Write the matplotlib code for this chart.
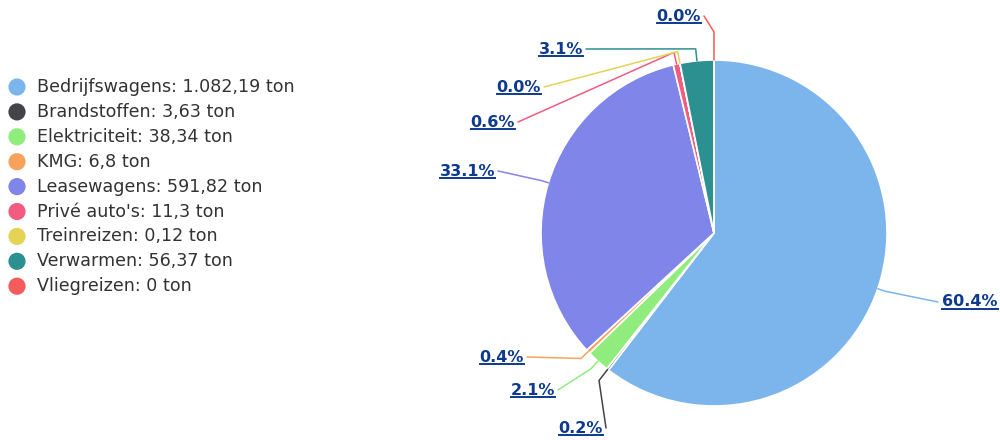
import matplotlib
matplotlib.use("Agg")
import matplotlib.pyplot as plt
from matplotlib.patches import Circle
import numpy as np

categories = ["Bedrijfswagens", "Brandstoffen", "Elektriciteit", "KMG", "Leasewagens",
              "Privé auto's", "Treinreizen", "Verwarmen", "Vliegreizen"]
values = [1082.19, 3.63, 38.34, 6.8, 591.82, 11.3, 0.12, 56.37, 0]
value_labels = ["1.082,19", "3,63", "38,34", "6,8", "591,82", "11,3", "0,12", "56,37", "0"]
colors = ["#7cb5ec", "#434348", "#90ed7d", "#f7a35c", "#8085e9",
          "#f15c80", "#e4d354", "#2b908f", "#f45b5b"]

# label anchor (end of connector) in pixel coords, origin top-left
label_pos = [(938, 302), (606, 428), (558, 390), (527, 357), (498, 171),
             (518, 122), (544, 87), (586, 49), (704, 16)]
label_ha = ["left", "right", "right", "right", "right", "right", "right", "right", "right"]
elbow_out = [8, 14, 10, 10, 8, 12, 12, 12, 28]

W, H = 1000, 440
cx, cy, R = 714, 233, 173
label_color = "#0d3a8e"

fig = plt.figure(figsize=(W / 100, H / 100), dpi=100)
ax = fig.add_axes([0, 0, 1, 1])
ax.set_xlim(0, W)
ax.set_ylim(0, H)
ax.set_aspect("equal")
ax.axis("off")

def Y(y):
    return H - y

ax.pie(values, colors=colors, center=(cx, Y(cy)), radius=R, startangle=90,
       counterclock=False, wedgeprops=dict(edgecolor="white", linewidth=1.2))
ax.set_xlim(0, W)
ax.set_ylim(0, H)

total = sum(values)
fracs = np.array(values) / total
cum = np.cumsum(fracs) - fracs
texts = []
for i, f in enumerate(fracs):
    theta = np.deg2rad(90 - 360 * (cum[i] + f / 2))
    ex, ey = cx + R * np.cos(theta), Y(cy) + R * np.sin(theta)
    r2 = R + elbow_out[i]
    bx, by = cx + r2 * np.cos(theta), Y(cy) + r2 * np.sin(theta)
    lx, ly = label_pos[i][0], Y(label_pos[i][1])
    ax.plot([ex, bx, lx], [ey, by, ly], color=colors[i], lw=1.1,
            solid_joinstyle="round", solid_capstyle="round")
    tx = lx + 4 if label_ha[i] == "left" else lx - 3
    t = ax.text(tx, ly, "%.1f%%" % (f * 100), ha=label_ha[i], va="center",
                fontsize=11.5, fontweight="bold", color=label_color)
    texts.append(t)

# legend
for i, (c, name, v) in enumerate(zip(colors, categories, value_labels)):
    yy = 87 + i * 24.9
    ax.add_patch(Circle((17, Y(yy)), 8.6, color=c, lw=0))
    ax.text(37, Y(yy), "%s: %s ton" % (name, v), ha="left", va="center",
            fontsize=12.6, color="#333333")

# underline the data labels
fig.canvas.draw()
inv = ax.transData.inverted()
for t in texts:
    bb = t.get_window_extent()
    (x0, y0), (x1, y1) = inv.transform([(bb.x0, bb.y0), (bb.x1, bb.y1)])
    ax.plot([x0, x1], [y0 + 0.5, y0 + 0.5], color=label_color, lw=1.4)

fig.savefig("out.png", dpi=100)
